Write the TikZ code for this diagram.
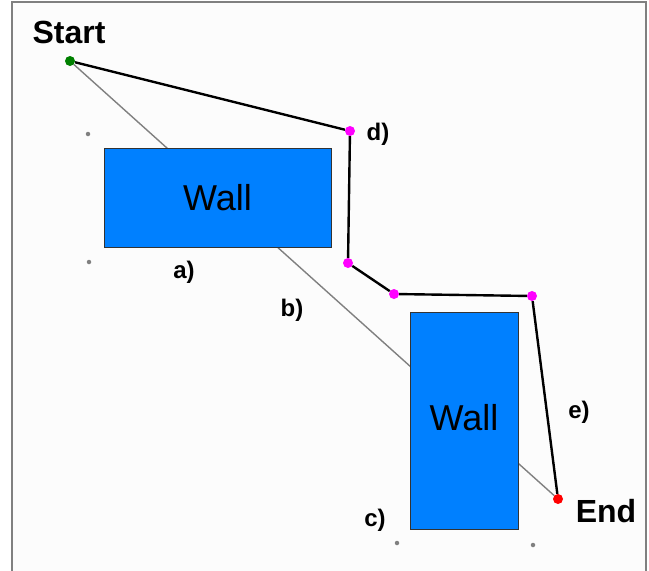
\documentclass[tikz,border=0pt]{standalone}
\usepackage{fontspec}
\setmainfont{Liberation Sans}
\usetikzlibrary{shapes}
\definecolor{wallblue}{RGB}{0,128,255}
\definecolor{pathgreen}{RGB}{0,128,0}
\definecolor{pointpink}{RGB}{255,0,255}
\tikzstyle{wall} = [rectangle, draw=black!80, fill=wallblue, line width=0.8pt,
	font=\fontsize{36}{40}\selectfont]
\tikzstyle{waypoint} = [circle, fill=pointpink, inner sep=0pt, minimum size=10pt]
\tikzstyle{corner} = [circle, fill=gray, inner sep=0pt, minimum size=4.5pt]
\tikzstyle{tag} = [font=\bfseries\fontsize{24}{28}\selectfont, inner sep=0pt]
\tikzstyle{bigtag} = [font=\bfseries\fontsize{32}{36}\selectfont, inner sep=0pt]

\begin{document}
\begin{tikzpicture}[x=1pt, y=-1pt]
		\useasboundingbox (0,0) rectangle (649,571);
		%Frame
		\fill [black!1] (12,2) rectangle (646,571);
		\draw [gray, line width=2pt] (12,573) -- (12,2) -- (646,2) -- (646,573);
		
		%Place end points
		\node [waypoint, fill=pathgreen] (start) at (70,61) {};
		\node [waypoint, fill=red] (end) at (558,499) {};
		\node [bigtag, anchor=base] at (69,43) {Start};
		\node [bigtag, anchor=base] at (606,522) {End};
		
		%Straight line
		\draw [gray, line width=1.4pt] (start) -- (end);
		
		%Place walls
		\node [wall, minimum width=227pt, minimum height=99pt] (wallA) at (217.5,197.5) {Wall};
		\node [wall, minimum width=108pt, minimum height=217pt] (wallB) at (464,420.5) {\raisebox{7pt}{Wall}};
		
		%Wall corners
		\node [corner] (ca1) at (88,134) {};
		\node [corner] (ca2) at (89,262) {};
		\node [corner] (cb1) at (397,543) {};
		\node [corner] (cb2) at (533,545) {};
		
		%Place waypoints
		\node [waypoint] (d) at (350,131) {};
		\node [waypoint] (p2) at (348,263) {};
		\node [waypoint] (p3) at (394,294) {};
		\node [waypoint] (p4) at (532,296) {};
		
		%Draw path
		\draw [black, line width=2.4pt] (start) -- (d) -- (p2) -- (p3) -- (p4) -- (end);
		
		%Labels
		\node [tag, anchor=base] at (184,278) {a)};
		\node [tag, anchor=base] at (292,316) {b)};
		\node [tag, anchor=base] at (375,526) {c)};
		\node [tag, anchor=base] at (378,140) {d)};
		\node [tag, anchor=base] at (579,418) {e)};
		
	\end{tikzpicture}
\end{document}
